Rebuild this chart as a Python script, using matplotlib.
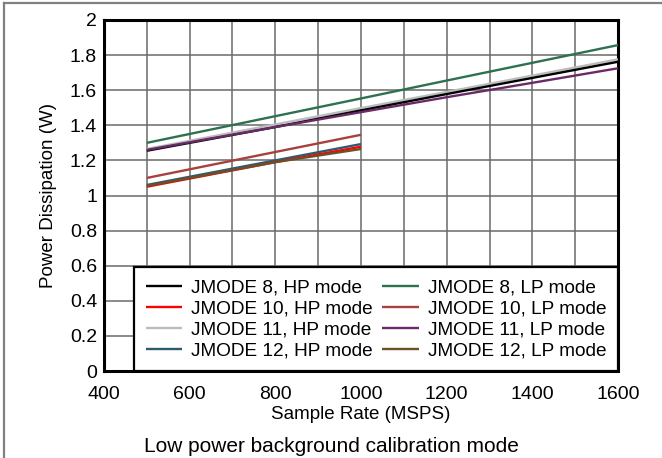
import matplotlib
matplotlib.use("Agg")
import matplotlib.pyplot as plt
from matplotlib.lines import Line2D

plt.rcParams['font.family'] = ['Liberation Sans', 'DejaVu Sans']

# Data (sample rate in MSPS, power in W)
x_full = [500, 800, 1000, 1200, 1400, 1600]
x_short = [500, 800, 1000]

jm8_hp = [1.255, 1.39, 1.485, 1.578, 1.67, 1.762]
jm10_hp = [1.05, 1.19, 1.278]
jm11_hp = [1.265, 1.405, 1.498, 1.59, 1.683, 1.776]
jm12_hp = [1.06, 1.20, 1.293]
jm8_lp = [1.30, 1.452, 1.553, 1.655, 1.756, 1.857]
jm10_lp = [1.10, 1.248, 1.346]
jm11_lp = [1.26, 1.39, 1.475, 1.56, 1.642, 1.725]
jm12_lp = [1.055, 1.19, 1.265]

series = [
    ("JMODE 8, HP mode", x_full, jm8_hp, "#000000"),
    ("JMODE 10, HP mode", x_short, jm10_hp, "#ff0000"),
    ("JMODE 11, HP mode", x_full, jm11_hp, "#bcbcbc"),
    ("JMODE 12, HP mode", x_short, jm12_hp, "#2e5a70"),
    ("JMODE 8, LP mode", x_full, jm8_lp, "#2e7050"),
    ("JMODE 10, LP mode", x_short, jm10_lp, "#a8403f"),
    ("JMODE 11, LP mode", x_full, jm11_lp, "#6a2a68"),
    ("JMODE 12, LP mode", x_short, jm12_lp, "#6b5028"),
]

x_ticks = [400, 600, 800, 1000, 1200, 1400, 1600]
y_ticks = [0, 0.2, 0.4, 0.6, 0.8, 1, 1.2, 1.4, 1.6, 1.8, 2]
y_labels = ["0", "0.2", "0.4", "0.6", "0.8", "1", "1.2", "1.4", "1.6", "1.8", "2"]

W, H = 662, 458
fig = plt.figure(figsize=(W / 100, H / 100), dpi=100)
ax = fig.add_axes([104 / W, 1 - 371 / H, (618 - 104) / W, (371 - 20) / H])

order = [2, 0, 4, 6, 5, 3, 1, 7]
handles = {}
for i in order:
    lab, xs, ys, c = series[i]
    h, = ax.plot(xs, ys, color=c, lw=1.7, label=lab, zorder=3, solid_capstyle='butt')
    handles[i] = h

ax.set_xlim(400, 1600)
ax.set_ylim(0, 2)
ax.set_xticks(x_ticks)
ax.set_xticks(list(range(400, 1601, 100)), minor=True)
ax.set_yticks(y_ticks)
ax.set_yticklabels(y_labels)
ax.tick_params(axis='both', which='both', length=0, labelsize=14)
ax.tick_params(axis='x', pad=11)
ax.tick_params(axis='y', pad=5)
ax.grid(True, which='both', color='#6a6a6a', lw=1.1)
ax.set_axisbelow(True)
for s in ax.spines.values():
    s.set_linewidth(2.2)
    s.set_color('black')

ax.set_xlabel("Sample Rate (MSPS)", fontsize=13.5, labelpad=2)
ax.set_ylabel("Power Dissipation (W)", fontsize=13.5, labelpad=9)

hl = [handles[i] for i in range(8)]
labs = [series[i][0] for i in range(8)]
leg = ax.legend(hl, labs, ncol=2, loc='lower right', bbox_to_anchor=(1, 0),
                borderaxespad=0, fontsize=13.7, handlelength=1.9, handletextpad=0.5,
                columnspacing=0.5, labelspacing=0.2, borderpad=0.6,
                fancybox=False, framealpha=1, edgecolor='black')
leg.get_frame().set_linewidth(1.6)
leg.set_zorder(5)

fig.text(0.5, 1 - 446 / H, "Low power background calibration mode", ha='center', va='center', fontsize=15)

# outer frame (top and left)
fig.add_artist(Line2D([4 / W, 4 / W], [0, 1 - 3 / H], color='#808080', lw=1.6, transform=fig.transFigure))
fig.add_artist(Line2D([4 / W, 1], [1 - 3 / H, 1 - 3 / H], color='#808080', lw=1.6, transform=fig.transFigure))

fig.savefig("out.png", dpi=100)
